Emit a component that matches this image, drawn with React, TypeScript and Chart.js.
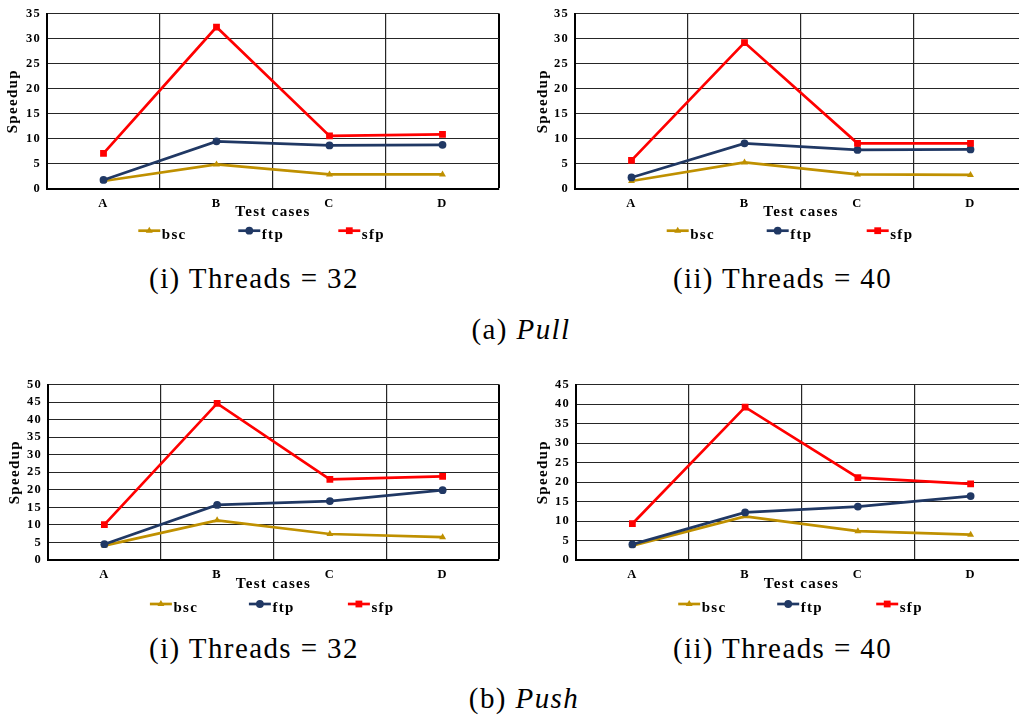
import React, { useEffect, useRef } from "react";
import { Chart, registerables } from "chart.js";

Chart.register(...registerables);

// ---- data ----
const categories = ["A", "B", "C", "D"];
const seriesLabels = ["bsc", "ftp", "sfp"];

// Pull, 32 threads
const pull32Bsc = [1.6, 4.9, 2.9, 2.9];
const pull32Ftp = [1.8, 9.5, 8.7, 8.8];
const pull32Sfp = [7.1, 32.3, 10.6, 10.9];

// Pull, 40 threads
const pull40Bsc = [1.6, 5.3, 2.9, 2.8];
const pull40Ftp = [2.3, 9.1, 7.8, 7.9];
const pull40Sfp = [5.7, 29.2, 9.1, 9.1];

// Push, 32 threads
const push32Bsc = [4.1, 11.3, 7.4, 6.5];
const push32Ftp = [4.5, 15.7, 16.8, 19.9];
const push32Sfp = [10.1, 44.6, 23.0, 23.8];

// Push, 40 threads
const push40Bsc = [3.7, 11.2, 7.4, 6.5];
const push40Ftp = [4.0, 12.2, 13.7, 16.4];
const push40Sfp = [9.3, 39.2, 21.1, 19.5];

const pullMax = 35;
const push32Max = 50;
const push40Max = 45;
const tickStep = 5;

const xTitle = "Test cases";
const yTitle = "Speedup";

// ---- styling ----
const SERIF = "'Liberation Serif', serif";
const seriesColors = ["#BF9000", "#203864", "#FF0000"];
const seriesMarkers = ["triangle", "circle", "rect"];
const markerRadius = [4.0, 3.9, 4.8];
const LINE_W = 2.7;
const GRID_COLOR = "#262626";

type Panel = {
  values: number[][];
  yMax: number;
  left: number;
  top: number;
  width: number;
  height: number;
  yTitlePad: number;
  xTitlePad: number;
  legendDy: number;
  legendStart: number;
  legendStep: number;
};

function drawMarker(
  ctx: CanvasRenderingContext2D,
  style: string,
  x: number,
  y: number,
  r: number,
  color: string
) {
  ctx.fillStyle = color;
  ctx.beginPath();
  if (style === "circle") {
    ctx.arc(x, y, r, 0, Math.PI * 2);
  } else if (style === "rect") {
    const s = r * Math.SQRT1_2;
    ctx.rect(x - s, y - s, 2 * s, 2 * s);
  } else {
    ctx.moveTo(x, y - r);
    ctx.lineTo(x + r * Math.sin((2 * Math.PI) / 3), y - r * Math.cos((2 * Math.PI) / 3));
    ctx.lineTo(x + r * Math.sin((4 * Math.PI) / 3), y - r * Math.cos((4 * Math.PI) / 3));
    ctx.closePath();
  }
  ctx.fill();
}

const spacingPlugin = {
  id: "textSpacing",
  beforeDraw(chart: any) {
    chart.ctx.letterSpacing = "1.3px";
  },
};

function makeLegend(p: Panel) {
  return {
    id: "seriesLegend",
    afterDraw(chart: any) {
      const { ctx, chartArea } = chart;
      const cx = (chartArea.left + chartArea.right) / 2;
      const y = chartArea.bottom + p.legendDy;
      ctx.save();
      ctx.letterSpacing = "1.3px";
      ctx.font = `bold 15px ${SERIF}`;
      ctx.textBaseline = "alphabetic";
      ctx.textAlign = "left";
      chart.data.datasets.forEach((ds: any, i: number) => {
        const x0 = cx + p.legendStart + i * p.legendStep;
        ctx.strokeStyle = seriesColors[i];
        ctx.lineWidth = LINE_W;
        ctx.beginPath();
        ctx.moveTo(x0, y);
        ctx.lineTo(x0 + 22, y);
        ctx.stroke();
        drawMarker(ctx, seriesMarkers[i], x0 + 11, y, markerRadius[i], seriesColors[i]);
        ctx.fillStyle = "#000";
        ctx.fillText(ds.label, x0 + 23.5, y + 8);
      });
      ctx.restore();
    },
  };
}

function SpeedupChart({ p }: { p: Panel }) {
  const ref = useRef<HTMLCanvasElement>(null);
  useEffect(() => {
    const tickFont = { family: SERIF, size: 12.5, weight: "bold" as const };
    const titleFont = { family: SERIF, size: 15, weight: "bold" as const };
    const chart = new Chart(ref.current!, {
      type: "line",
      data: {
        labels: categories,
        datasets: seriesLabels.map((label, i) => ({
          label,
          data: p.values[i],
          borderColor: seriesColors[i],
          backgroundColor: seriesColors[i],
          borderWidth: LINE_W,
          pointStyle: seriesMarkers[i] as any,
          pointRadius: markerRadius[i],
          pointBorderWidth: 0,
          pointBackgroundColor: seriesColors[i],
          tension: 0,
          fill: false,
          order: seriesLabels.length - i,
        })),
      },
      options: {
        responsive: false,
        animation: false,
        devicePixelRatio: 1,
        layout: { padding: { left: 0, top: 9, right: 11, bottom: 0 } },
        plugins: {
          legend: { display: false },
          tooltip: { enabled: false },
        },
        scales: {
          x: {
            type: "category",
            offset: true,
            grid: {
              offset: true,
              color: (c: any) => (c.tick ? GRID_COLOR : "#000"),
              lineWidth: (c: any) => (c.tick ? 1.2 : 2),
              drawTicks: false,
            },
            border: { display: true, color: "#000", width: 2 },
            ticks: {
              font: tickFont,
              color: "#000",
              padding: 7,
              maxRotation: 0,
              autoSkip: false,
            },
            title: {
              display: true,
              text: xTitle,
              font: titleFont,
              color: "#000",
              padding: { top: 0, bottom: p.xTitlePad },
            },
            afterFit: (s: any) => {
              s.height = 61;
            },
          },
          y: {
            min: 0,
            max: p.yMax,
            ticks: {
              stepSize: tickStep,
              font: tickFont,
              color: "#000",
              padding: 6,
              autoSkip: false,
            },
            grid: { color: GRID_COLOR, lineWidth: 1, drawTicks: false },
            border: { display: true, color: "#000", width: 2 },
            title: {
              display: true,
              text: yTitle,
              font: titleFont,
              color: "#000",
              padding: { top: p.yTitlePad, bottom: 0 },
            },
            afterFit: (s: any) => {
              s.width = 47;
            },
          },
        },
      },
      plugins: [spacingPlugin, makeLegend(p)],
    });
    return () => chart.destroy();
  }, [p]);
  return (
    <canvas
      ref={ref}
      width={p.width}
      height={p.height}
      style={{ position: "absolute", left: p.left, top: p.top, width: p.width, height: p.height }}
    />
  );
}

const panels: Panel[] = [
  {
    values: [pull32Bsc, pull32Ftp, pull32Sfp],
    yMax: pullMax,
    left: 0, top: 0, width: 510, height: 250,
    yTitlePad: 4, xTitlePad: 29,
    legendDy: 41.7, legendStart: -134.7, legendStep: 100,
  },
  {
    values: [pull40Bsc, pull40Ftp, pull40Sfp],
    yMax: pullMax,
    left: 528, top: 0, width: 510, height: 250,
    yTitlePad: 6.3, xTitlePad: 29,
    legendDy: 41.7, legendStart: -134.3, legendStep: 100,
  },
  {
    values: [push32Bsc, push32Ftp, push32Sfp],
    yMax: push32Max,
    left: 1, top: 371, width: 509, height: 250,
    yTitlePad: 5, xTitlePad: 28,
    legendDy: 44, legendStart: -123.6, legendStep: 99,
  },
  {
    values: [push40Bsc, push40Ftp, push40Sfp],
    yMax: push40Max,
    left: 529, top: 371, width: 509, height: 250,
    yTitlePad: 5.3, xTitlePad: 28,
    legendDy: 44, legendStart: -123.3, legendStep: 99,
  },
];

const captionStyle = (cx: number, cy: number): React.CSSProperties => ({
  position: "absolute",
  left: cx - 200,
  top: cy - 18,
  width: 400,
  height: 36,
  lineHeight: "36px",
  textAlign: "center",
  fontFamily: "'Liberation Serif', serif",
  fontSize: 29,
  letterSpacing: "1.4px",
  color: "#000",
  whiteSpace: "nowrap",
});

export default function App() {
  return (
    <div
      style={{
        position: "absolute",
        left: 0,
        top: 0,
        width: 1019,
        height: 719,
        overflow: "hidden",
        background: "#fff",
      }}
    >
      {panels.map((p, i) => (
        <SpeedupChart key={i} p={p} />
      ))}
      <div style={captionStyle(254, 278)}>(i) Threads = 32</div>
      <div style={captionStyle(782.5, 278)}>(ii) Threads = 40</div>
      <div style={captionStyle(521, 329)}>
        (a) <i>Pull</i>
      </div>
      <div style={captionStyle(254, 648)}>(i) Threads = 32</div>
      <div style={captionStyle(782.5, 648)}>(ii) Threads = 40</div>
      <div style={captionStyle(524, 698)}>
        (b) <i>Push</i>
      </div>
    </div>
  );
}
